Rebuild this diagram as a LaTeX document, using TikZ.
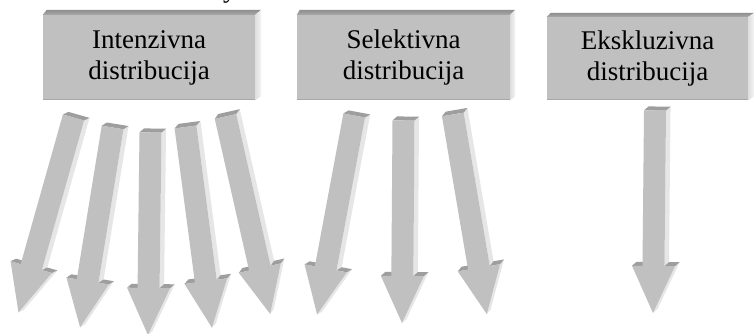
\documentclass[tikz,border=0pt]{standalone}
\usepackage{fontspec}
\setmainfont{Liberation Serif}
\usetikzlibrary{calc}
\definecolor{face}{HTML}{C0C0C0}
\definecolor{topface}{HTML}{9E9E9E}
\definecolor{topdark}{HTML}{8E8E8E}
\definecolor{sideface}{HTML}{E6E6E6}
\definecolor{sidelight}{HTML}{F4F4F4}
\definecolor{edgeline}{HTML}{A8A8A8}
\tikzset{
  boxface/.style={fill=face, draw=none, inner sep=0pt, align=center,
    font=\fontsize{27}{31}\selectfont},
  boxtop/.style={top color=topdark, bottom color=topface!70!face, draw=none},
  boxside/.style={left color=sideface!80!face, right color=sidelight, draw=none},
  arrface/.style={fill=face, draw=none},
  arrtop/.style={fill=topface, draw=none},
  arrside/.style={fill=sideface, draw=none},
}
% block arrow from tail coordinate #1 towards tip coordinate #2
\newcommand\blockarrow[2]{%
  \pgfmathanglebetweenpoints{\pgfpointanchor{#1}{center}}{\pgfpointanchor{#2}{center}}%
  \let\myang\pgfmathresult
  \begin{scope}[shift={(#1)}, rotate=\myang+90]
    \def\hw{11}\def\HW{21.5}\def\LL{202.5}\def\LB{155.5}\def\ox{4.5}\def\oy{4}
    % right faces (light)
    \fill[arrside] (\hw,0) -- (\hw,-\LB) -- (\hw+\ox,-\LB+\oy) -- (\hw+\ox,\oy) -- cycle;
    \fill[arrside] (\HW,-\LB) -- (0,-\LL) -- (\ox,-\LL+\oy) -- (\HW+\ox,-\LB+\oy) -- cycle;
    % top faces (dark)
    \fill[arrtop] (-\hw,0) -- (\hw,0) -- (\hw+\ox,\oy) -- (-\hw+\ox,\oy) -- cycle;
    \fill[arrtop] (\hw,-\LB) -- (\HW,-\LB) -- (\HW+\ox,-\LB+\oy) -- (\hw+\ox,-\LB+\oy) -- cycle;
    \fill[arrtop] (-\HW,-\LB) -- (-\hw,-\LB) -- (-\hw+\ox,-\LB+\oy) -- (-\HW+\ox,-\LB+\oy) -- cycle;
    % front face
    \fill[arrface] (-\hw,0) -- (\hw,0) -- (\hw,-\LB) -- (\HW,-\LB) -- (0,-\LL)
      -- (-\HW,-\LB) -- (-\hw,-\LB) -- cycle;
  \end{scope}}
% 3-D box bevels around a node
\newcommand\boxbevel[4]{% node, top depth, side depth, bottom lift
  \shade[boxtop] (#1.north west) -- ++(#3-2,#2) -- ($(#1.north east)+(#3,#2)$) -- (#1.north east) -- cycle;
  \shade[boxside] (#1.north east) -- ++(#3,#2) -- ($(#1.south east)+(#3,#4)$) -- (#1.south east) -- cycle;
  \draw[edgeline, line width=1.2pt] ($(#1.south west)+(0,0.6)$) -- ($(#1.south east)+(0,0.6)$);
}
\begin{document}
\begin{tikzpicture}[x=1pt,y=1pt]
  \useasboundingbox (0,0) rectangle (754,-334);
  \fill[white] (0,0) rectangle (754,-334);
  % fragment of a cut-off title letter
  \begin{scope}
    \clip (0,0) rectangle (754,-334);
    \node[anchor=base west, inner sep=0pt, font=\fontsize{27}{31}\selectfont] (ttl) at (223,2) {y};
  \end{scope}
  % boxes
  \node[boxface, minimum width=212pt, minimum height=85pt] (b1) at (149,-57.5) {Intenzivna\\distribucija};
  \node[boxface, minimum width=213pt, minimum height=85pt] (b2) at (403.5,-57.5) {Selektivna\\distribucija};
  \node[boxface, minimum width=201pt, minimum height=83pt] (b3) at (647.5,-58.5) {Ekskluzivna\\distribucija};
  \boxbevel{b1}{5}{6}{4}
  \boxbevel{b2}{5}{5}{4}
  \boxbevel{b3}{4}{6}{4}
  % arrow end points
  \coordinate (a1s) at (73.5,-117.5);  \coordinate (a1e) at (18.3,-313);
  \coordinate (a2s) at (112.6,-127.5); \coordinate (a2e) at (80,-328);
  \coordinate (a3s) at (150.5,-132.5); \coordinate (a3e) at (148,-333);
  \coordinate (a4s) at (185.5,-127);   \coordinate (a4e) at (212,-328);
  \coordinate (a5s) at (225.5,-116.5); \coordinate (a5e) at (270,-313);
  \coordinate (a6s) at (354.2,-115.5); \coordinate (a6e) at (317,-315);
  \coordinate (a7s) at (403.5,-120.5); \coordinate (a7e) at (402,-323);
  \coordinate (a8s) at (452.8,-114.5); \coordinate (a8e) at (487,-315);
  \coordinate (a9s) at (655,-110.5);   \coordinate (a9e) at (653,-315);
  \blockarrow{a1s}{a1e}
  \blockarrow{a2s}{a2e}
  \blockarrow{a3s}{a3e}
  \blockarrow{a4s}{a4e}
  \blockarrow{a5s}{a5e}
  \blockarrow{a6s}{a6e}
  \blockarrow{a7s}{a7e}
  \blockarrow{a8s}{a8e}
  \blockarrow{a9s}{a9e}
\end{tikzpicture}
\end{document}
